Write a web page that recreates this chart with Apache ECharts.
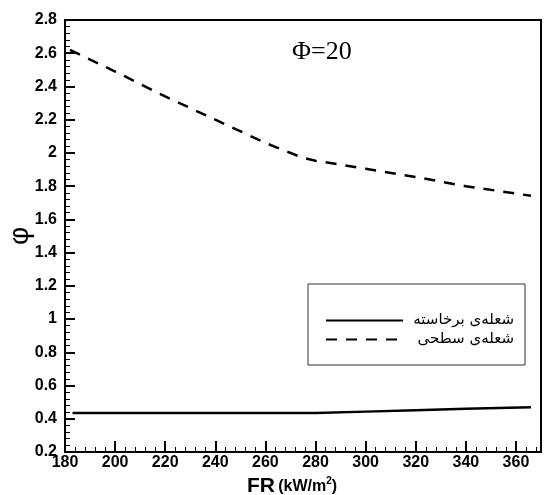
<!DOCTYPE html>
<html>
<head>
<meta charset="utf-8">
<script src="https://cdn.jsdelivr.net/npm/echarts@6/dist/echarts.min.js"></script>
<style>
  html, body { margin: 0; padding: 0; background: #fff; }
  #chart { width: 544px; height: 495px; }
</style>
</head>
<body>
<div id="chart"></div>
<script>
// Values
const liftedName = "شعله\u200cی برخاسته";   // solid line
const surfaceName = "شعله\u200cی سطحی";     // dashed line

const liftedFR = [183, 220, 260, 280, 300, 320, 340, 366];
const liftedPhi = [0.434, 0.434, 0.434, 0.434, 0.443, 0.452, 0.460, 0.470];

const surfaceFR = [182, 200, 220, 240, 260, 275, 280, 300, 320, 340, 366];
const surfacePhi = [2.62, 2.49, 2.34, 2.20, 2.06, 1.97, 1.953, 1.905, 1.855, 1.80, 1.742];

const chart = echarts.init(document.getElementById("chart"));

const labelFont = {
    color: "#000",
    fontFamily: "Arial, 'Liberation Sans', sans-serif",
    fontWeight: "bold",
    fontSize: 16
};

let options = {
    animation: false,
    backgroundColor: "#fff",
    grid: {
        left: 65, right: 3, top: 20, bottom: 43,
        outerBoundsMode: "none",
        containLabel: false,
        show: true,
        borderColor: "#000",
        borderWidth: 2
    },
    title: {
        text: "Φ=20",
        left: 287, top: 34,
        textStyle: {
            fontFamily: "'Liberation Serif', 'Times New Roman', serif",
            fontWeight: "normal",
            fontSize: 26,
            color: "#000"
        }
    },
    legend: {
        orient: "vertical",
        left: 308, top: 284,
        padding: [29, 11, 18, 17],
        itemWidth: 77,
        itemHeight: 14,
        itemGap: 4,
        borderColor: "#333",
        borderWidth: 1,
        itemStyle: { opacity: 0 },
        data: [liftedName, surfaceName],
        formatter: name => "{t|" + name + "}",
        textStyle: {
            rich: {
                t: {
                    width: 106,
                    align: "right",
                    fontFamily: "'DejaVu Sans', sans-serif",
                    fontSize: 15,
                    color: "#000"
                }
            }
        }
    },
    xAxis: {
        type: "value",
        min: 180, max: 370, interval: 20,
        name: "{a|FR} {b|(kW/m}{c|2}{b|)}",
        nameLocation: "middle",
        nameGap: 23,
        nameTextStyle: {
            padding: [0, 22, 0, 0],
            rich: {
                a: { fontFamily: "Arial, sans-serif", fontWeight: "bold", fontSize: 21, color: "#000" },
                b: { fontFamily: "Arial, sans-serif", fontWeight: "bold", fontSize: 16, color: "#000" },
                c: { fontFamily: "Arial, sans-serif", fontWeight: "bold", fontSize: 10, color: "#000", verticalAlign: "top", padding: [0, 0, 8, 0] }
            }
        },
        axisLine: { lineStyle: { color: "#000", width: 2 } },
        axisTick: { inside: true, length: 11, lineStyle: { color: "#000", width: 2 } },
        minorTick: { show: true, splitNumber: 5, length: 5, lineStyle: { color: "#000", width: 1 } },
        splitLine: { show: false },
        axisLabel: Object.assign({ margin: 3, showMaxLabel: false }, labelFont)
    },
    yAxis: {
        type: "value",
        min: 0.2, max: 2.8, interval: 0.2,
        name: "φ",
        nameLocation: "middle",
        nameRotate: 90,
        nameGap: 31,
        nameMoveOverlap: false,
        nameTextStyle: {
            fontFamily: "Arial, sans-serif",
            fontSize: 28,
            color: "#000"
        },
        axisLine: { lineStyle: { color: "#000", width: 2 } },
        axisTick: { inside: true, length: 10, lineStyle: { color: "#000", width: 2 } },
        minorTick: { show: true, splitNumber: 5, length: 5, lineStyle: { color: "#000", width: 1 } },
        splitLine: { show: false },
        axisLabel: Object.assign({ margin: 8 }, labelFont)
    },
    series: [
        {
            name: liftedName,
            type: "line",
            symbol: "none",
            data: liftedFR.map((x, i) => [x, liftedPhi[i]]),
            lineStyle: { color: "#000", width: 2.5, type: "solid" },
            itemStyle: { color: "#000" }
        },
        {
            name: surfaceName,
            type: "line",
            symbol: "none",
            data: surfaceFR.map((x, i) => [x, surfacePhi[i]]),
            lineStyle: { color: "#000", width: 2.5, type: [11, 9] },
            itemStyle: { color: "#000" }
        }
    ]
};

chart.setOption(options);
</script>
</body>
</html>
